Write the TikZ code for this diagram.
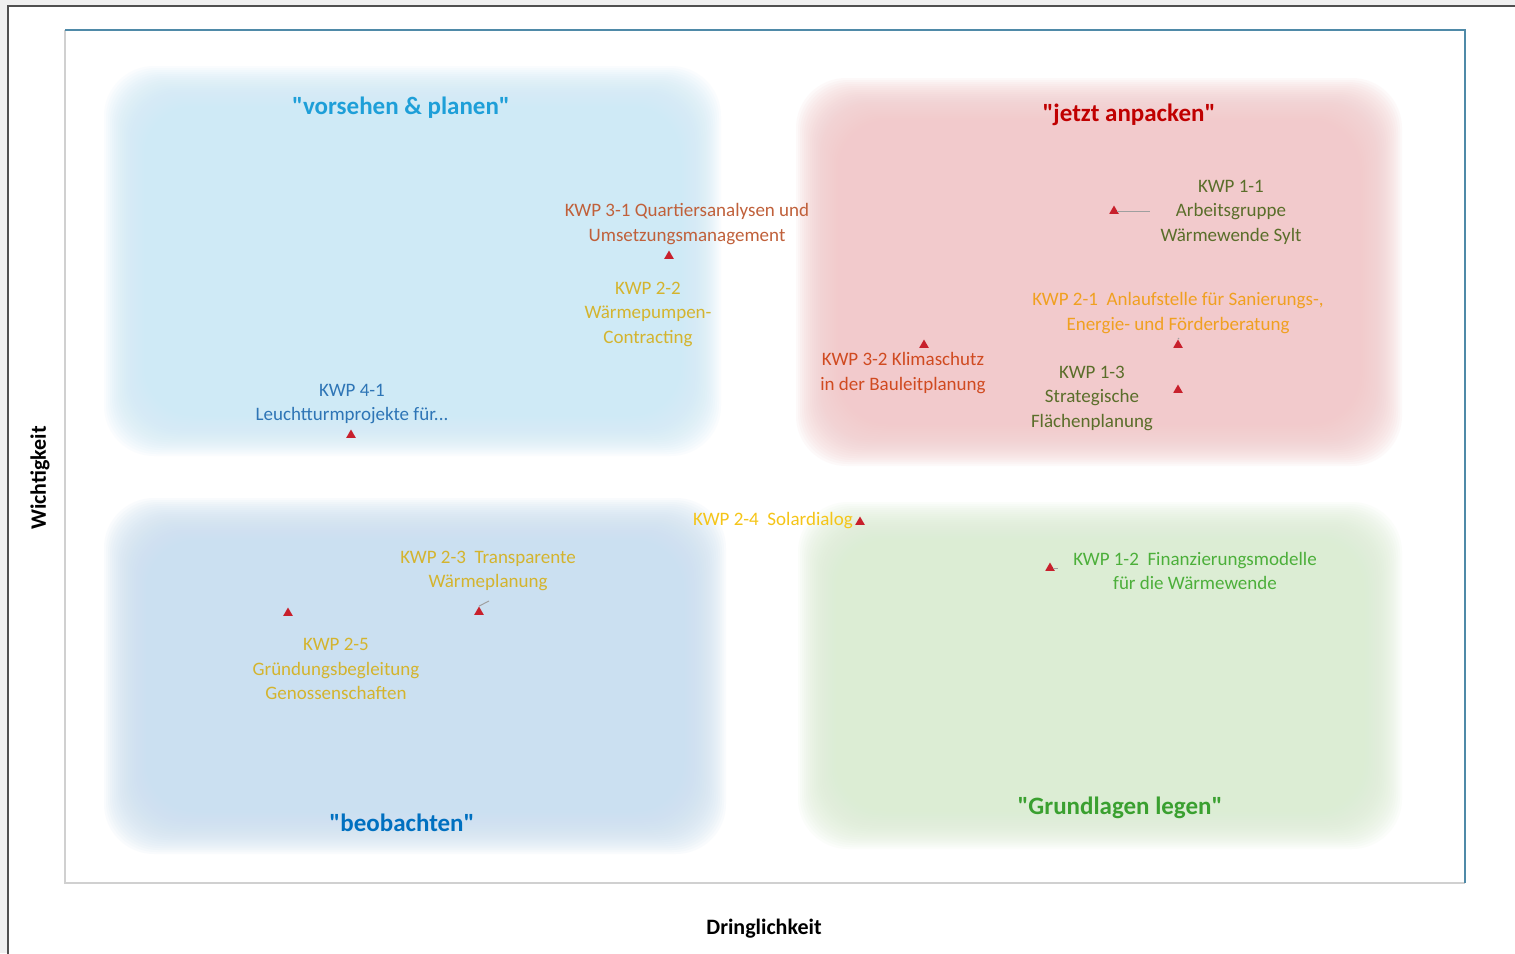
\documentclass[tikz,border=0pt]{standalone}
\usepackage{fontspec}
\setmainfont{Carlito}[Ligatures=TeXOff]
\usetikzlibrary{shapes.geometric}
\definecolor{pagegrey}{HTML}{F0F0F0}
\definecolor{pageedge}{HTML}{505050}
\definecolor{frameblue}{HTML}{4F8AA8}
\definecolor{framegrey}{HTML}{D0D0D0}
\definecolor{qtl}{HTML}{CFEAF6}
\definecolor{qtr}{HTML}{F2CACC}
\definecolor{qbl}{HTML}{CBE0F1}
\definecolor{qbr}{HTML}{DCEDD4}
\definecolor{hcyan}{HTML}{1E9FD8}
\definecolor{hred}{HTML}{C00000}
\definecolor{hblue}{HTML}{0070C0}
\definecolor{hgreen}{HTML}{3AA030}
\definecolor{cbrown}{HTML}{C0603A}
\definecolor{cgold}{HTML}{D4B42E}
\definecolor{cblue}{HTML}{2E75B6}
\definecolor{colive}{HTML}{5A6E2A}
\definecolor{corange}{HTML}{F0A020}
\definecolor{cred}{HTML}{D04A20}
\definecolor{cyellow}{HTML}{F5C518}
\definecolor{cgreen}{HTML}{4CAF3A}
\definecolor{mkred}{HTML}{C8202C}
% outer rectangle given; 30 soft layers inset by 2pt each
\newcommand{\blurbox}[5]{%
  \foreach \i in {0,...,29}{%
    \fill[#1, opacity=0.1, rounded corners=50pt]
      ({#2+2*\i},{#3+2*\i}) rectangle ({#4-2*\i},{#5-2*\i});
  }}
\tikzset{
  lbl/.style={align=center, font=\fontsize{19}{24.5}\selectfont, inner sep=0pt},
  head/.style={font=\fontsize{25}{30}\selectfont\bfseries, inner sep=0pt},
  axislbl/.style={font=\fontsize{22}{26}\selectfont\bfseries, inner sep=0pt, text=black},
  marker/.style={regular polygon, regular polygon sides=3, fill=mkred, minimum size=11pt, inner sep=0pt},
  leader/.style={draw=gray!75, line width=1pt}
}
\begin{document}
\begin{tikzpicture}[x=1pt,y=-1pt]
\useasboundingbox (0,0) rectangle (1515,953);
% page
\fill[pagegrey] (0,0) rectangle (1515,953);
\fill[white] (8,6) rectangle (1520,960);
\draw[pageedge, line width=2pt] (8,960) -- (8,6) -- (1520,6);
% inner frame
\draw[framegrey, line width=2pt] (65,30) -- (65,883) -- (1465,883);
\draw[frameblue, line width=2pt] (65,30) -- (1465,30) -- (1465,883);
% quadrants
\blurbox{qtl}{104}{66}{721}{456}
\blurbox{qtr}{796}{78}{1402}{466}
\blurbox{qbl}{104}{498}{726}{854}
\blurbox{qbr}{798}{502}{1402}{849}
% headings
\node[head, text=hcyan] (h1) at (401,108) {"vorsehen \& planen"};
\node[head, text=hred] (h2) at (1129,115) {"jetzt anpacken"};
\node[head, text=hblue] (h3) at (402,823) {"beobachten"};
\node[head, text=hgreen] (h4) at (1120,808) {"Grundlagen legen"};
% axis labels
\node[axislbl, rotate=90] (ay) at (40,478) {Wichtigkeit};
\node[axislbl] (ax) at (764,929) {Dringlichkeit};
% measures
\node[lbl, text=cbrown] (k31) at (687,224) {KWP 3-1 Quartiersanalysen und\\Umsetzungsmanagement};
\node[lbl, text=cgold] (k22) at (648,314) {KWP 2-2\\Wärmepumpen-\\Contracting};
\node[lbl, text=cblue] (k41) at (352,404) {KWP 4-1\\Leuchtturmprojekte für...};
\node[lbl, text=colive] (k11) at (1231,212) {KWP 1-1\\Arbeitsgruppe\\Wärmewende Sylt};
\node[lbl, text=corange] (k21) at (1178,313) {KWP 2-1\ \ Anlaufstelle für Sanierungs-,\\Energie- und Förderberatung};
\node[lbl, text=cred] (k32) at (903,373) {KWP 3-2 Klimaschutz\\in der Bauleitplanung};
\node[lbl, text=colive] (k13) at (1092,398) {KWP 1-3\\Strategische\\Flächenplanung};
\node[lbl, text=cyellow] (k24) at (773,521) {KWP 2-4\ \ Solardialog};
\node[lbl, text=cgold] (k23) at (488,571) {KWP 2-3\ \ Transparente\\Wärmeplanung};
\node[lbl, text=cgold] (k25) at (336,669) {KWP 2-5\\Gründungsbegleitung\\Genossenschaften};
\node[lbl, text=cgreen] (k12) at (1195,571) {KWP 1-2\ \ Finanzierungsmodelle\\für die Wärmewende};
% markers
\node[marker] (m31) at (669,256) {};
\node[marker] (m11) at (1114,211) {};
\node[marker] (m32) at (924,345) {};
\node[marker] (m21) at (1178,345) {};
\node[marker] (m13) at (1178,390) {};
\node[marker] (m41) at (351,435) {};
\node[marker] (m24) at (860,522) {};
\node[marker] (m12) at (1050,568) {};
\node[marker] (m25) at (288,613) {};
\node[marker] (m23) at (479,612) {};
% leader lines
\coordinate (l11) at (1150,211);
\coordinate (l21) at (1179,338);
\coordinate (l12) at (1058,568);
\coordinate (l23) at (489,601);
\draw[leader] (m11.east) -- (l11);
\draw[leader] (m21.north) -- (l21);
\draw[leader] (m12.east) -- (l12);
\draw[leader] (m23.north) -- (l23);
\end{tikzpicture}
\end{document}
